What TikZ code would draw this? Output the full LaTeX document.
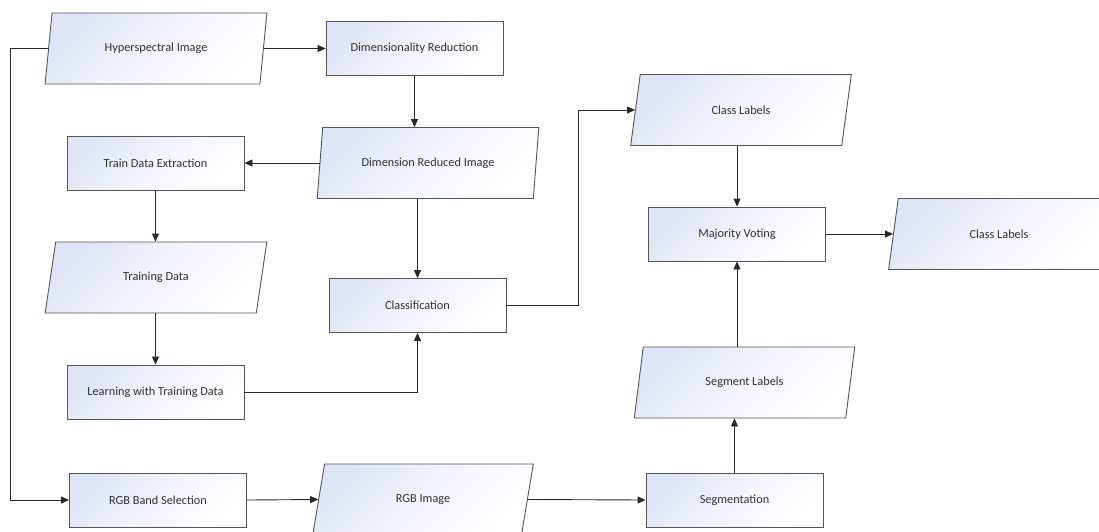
\documentclass[tikz,border=0pt]{standalone}
\usepackage{fontspec}
\setmainfont{Carlito}
\usetikzlibrary{arrows.meta,shapes.geometric}

\definecolor{fillc}{RGB}{222,229,246}
\definecolor{bordc}{RGB}{85,85,85}
\definecolor{linec}{RGB}{40,40,40}
\definecolor{txtc}{RGB}{50,50,50}

\tikzset{
  % pale blue tint in the upper left corner fading to white
  shadefill/.style={top color=fillc, bottom color=white,
    middle color=fillc!40!white, shading angle=45},
  proc/.style={rectangle, draw=bordc, line width=0.9pt, shadefill,
    minimum width=177pt, minimum height=54pt, inner sep=0pt,
    font=\fontsize{12.3}{14}\selectfont, text=txtc},
  data/.style={trapezium, trapezium left angle=72, trapezium right angle=108,
    trapezium stretches=true, draw=bordc, line width=0.9pt, shadefill,
    minimum width=222pt, minimum height=71pt, inner sep=0pt,
    font=\fontsize{12.3}{14}\selectfont, text=txtc},
  arr/.style={draw=linec, line width=0.9pt, -{Triangle[length=8pt,width=7pt]}}
}

\begin{document}
\begin{tikzpicture}[x=1pt, y=-1pt]
\useasboundingbox (0,0) rectangle (1099,531);

% hyperspectral branch
\node[data] (hi)    at (156,48.5)  {Hyperspectral Image};
\node[proc] (dr)    at (414.5,48.5) {Dimensionality Reduction};
\node[data] (dri)   at (428,163)   {Dimension Reduced Image};
\node[proc] (tde)   at (155.5,163) {Train Data Extraction};
\node[data] (td)    at (156,277.5) {Training Data};
\node[proc] (lwtd)  at (155.5,392) {Learning with Training Data};
\node[proc] (cls)   at (417.5,305.5) {Classification};

% RGB branch
\node[proc] (rgbbs) at (158,500)   {RGB Band Selection};
\node[data] (rgbi)  at (423,499.5) {RGB Image};
\node[proc] (seg)   at (734.5,500) {Segmentation};
\node[data] (sl)    at (744.5,382.5) {Segment Labels};

% fusion
\node[data] (cl1)   at (741,110)   {Class Labels};
\node[proc] (mv)    at (737,234)   {Majority Voting};
\node[data] (cl2)   at (999,234)   {Class Labels};

\coordinate (lft) at (10,0);
\coordinate (jn)  at (578,0);

% connectors
\draw[arr] (hi) -- (dr);
\draw[arr] (hi.left side) -- (hi.left side -| lft) |- (rgbbs.west);
\draw[arr] (dr.south) -- (dr.south |- dri.top side);
\draw[arr] (dri.left side) -- (tde.east);
\draw[arr] (cls.north |- dri.bottom side) -- (cls.north);
\draw[arr] (tde.south) -- (tde.south |- td.top side);
\draw[arr] (td.bottom side -| lwtd.north) -- (lwtd.north);
\draw[arr] (lwtd.east) -| (cls.south);
\draw[arr] (cls.east) -- (cls.east -| jn) |- (cl1.left side);
\draw[arr] (cl1.bottom side -| mv.north) -- (mv.north);
\draw[arr] (mv.east) -- (cl2.left side);
\draw[arr] (sl.top side -| mv.south) -- (mv.south);
\draw[arr] (seg.north) -- (seg.north |- sl.bottom side);
\draw[arr] (rgbbs.east) -- (rgbi.left side);
\draw[arr] (rgbi.right side) -- (seg.west);
\end{tikzpicture}
\end{document}
